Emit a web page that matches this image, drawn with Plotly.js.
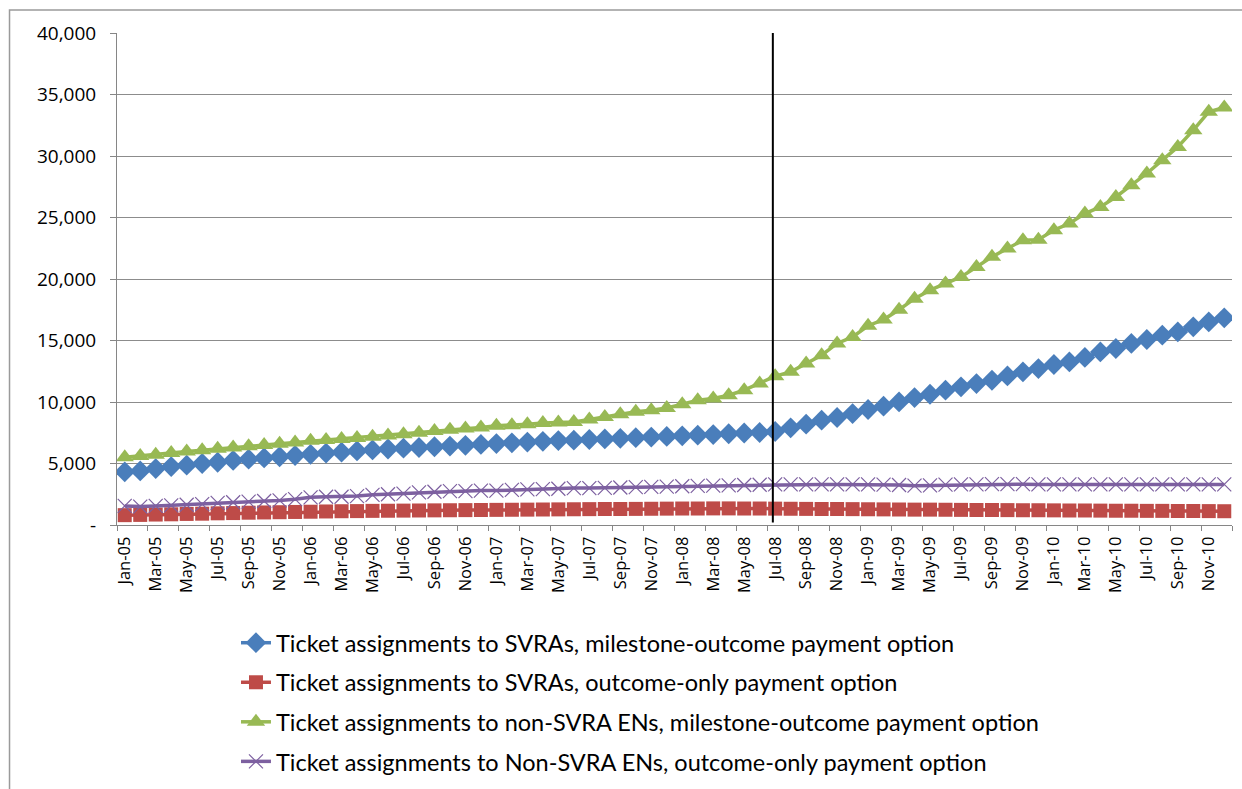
<!DOCTYPE html>
<html>
<head>
<meta charset="utf-8">
<script src="https://cdn.plot.ly/plotly-3.0.1.min.js"></script>
<style>html,body{margin:0;padding:0;background:#fff;}</style>
</head>
<body>
<div id="chart" style="width:1242px;height:789px;"></div>
<script>
const months = [
  "Jan-05","Feb-05","Mar-05","Apr-05","May-05","Jun-05","Jul-05","Aug-05","Sep-05","Oct-05","Nov-05","Dec-05",
  "Jan-06","Feb-06","Mar-06","Apr-06","May-06","Jun-06","Jul-06","Aug-06","Sep-06","Oct-06","Nov-06","Dec-06",
  "Jan-07","Feb-07","Mar-07","Apr-07","May-07","Jun-07","Jul-07","Aug-07","Sep-07","Oct-07","Nov-07","Dec-07",
  "Jan-08","Feb-08","Mar-08","Apr-08","May-08","Jun-08","Jul-08","Aug-08","Sep-08","Oct-08","Nov-08","Dec-08",
  "Jan-09","Feb-09","Mar-09","Apr-09","May-09","Jun-09","Jul-09","Aug-09","Sep-09","Oct-09","Nov-09","Dec-09",
  "Jan-10","Feb-10","Mar-10","Apr-10","May-10","Jun-10","Jul-10","Aug-10","Sep-10","Oct-10","Nov-10","Dec-10"
];

const svraMilestone = [
  4320,4400,4590,4750,4860,5000,5100,5250,5350,5450,5550,5650,
  5750,5850,5920,6020,6100,6180,6250,6300,6360,6420,6480,6550,
  6620,6680,6740,6800,6860,6900,6950,7000,7050,7100,7150,7200,
  7250,7300,7350,7420,7480,7520,7600,7900,8200,8520,8740,9060,
  9390,9660,10010,10360,10630,10960,11230,11500,11770,12120,12450,12720,
  13050,13260,13620,14070,14350,14760,15080,15430,15700,16110,16510,16840
];

const svraOutcome = [
  800,820,850,870,900,920,950,970,1000,1020,1040,1060,
  1080,1100,1120,1130,1150,1160,1170,1180,1190,1200,1210,1220,
  1230,1240,1250,1260,1270,1280,1290,1300,1300,1310,1320,1330,
  1340,1340,1350,1350,1340,1340,1330,1320,1310,1300,1300,1290,
  1280,1270,1260,1250,1250,1240,1230,1220,1220,1210,1200,1200,
  1190,1180,1180,1170,1160,1160,1150,1150,1140,1140,1130,1120
];

const nonSvraMilestone = [
  5500,5600,5720,5850,5970,6080,6200,6300,6400,6500,6600,6700,
  6850,6920,7000,7080,7180,7280,7380,7500,7650,7750,7840,7920,
  8060,8110,8200,8300,8330,8380,8580,8790,9010,9200,9330,9520,
  9820,10150,10280,10550,10960,11500,12100,12450,13130,13800,14760,15290,
  16200,16700,17500,18400,19090,19630,20170,20980,21800,22480,23150,23200,
  23970,24510,25320,25860,26670,27630,28580,29660,30740,32100,33590,33940
];

const nonSvraOutcome = [
  1550,1500,1550,1600,1650,1700,1800,1850,1900,1950,2000,2100,
  2250,2300,2300,2350,2450,2500,2550,2650,2700,2750,2750,2800,
  2800,2850,2900,2920,2950,3000,3000,3020,3050,3080,3100,3120,
  3150,3180,3200,3220,3250,3270,3300,3300,3300,3300,3300,3300,
  3300,3280,3250,3200,3220,3280,3300,3300,3320,3320,3320,3300,
  3300,3300,3300,3300,3300,3300,3300,3300,3300,3300,3300,3300
];

const seriesNames = [
  "Ticket assignments to SVRAs, milestone-outcome payment option",
  "Ticket assignments to SVRAs, outcome-only payment option",
  "Ticket assignments to non-SVRA ENs, milestone-outcome payment option",
  "Ticket assignments to Non-SVRA ENs, outcome-only payment option"
];

const yTickVals = [0,5000,10000,15000,20000,25000,30000,35000,40000];
const yTickText = ["-","5,000","10,000","15,000","20,000","25,000","30,000","35,000","40,000"];
const markerLine = "Jul-08";

const colors = ["#4A7EBB","#BE4B48","#98B954","#7D60A0"];
const symbols = ["diamond","square","triangle-up","x-thin-open"];
const sizes = [16,14,16,14];
const dataSets = [svraMilestone, svraOutcome, nonSvraMilestone, nonSvraOutcome];

const traces = dataSets.map((d,i)=>({
  type:"scatter", mode:"lines+markers",
  x: months, y: d, name: seriesNames[i],
  legendgroup: "g"+i,
  line:{color:colors[i], width:3.5},
  marker: i===3
    ? {symbol:symbols[i], size:sizes[i], color:colors[i], line:{color:colors[i], width:1.2}}
    : {symbol:symbols[i], size:sizes[i], color:colors[i], line:{width:0}},
  hoverinfo:"x+y+name"
}));

const lineIdx = months.indexOf(markerLine) - 0.15;

const layout = {
  width:1242, height:789, autosize:false,
  paper_bgcolor:"#fff", plot_bgcolor:"#fff",
  margin:{l:117, r:10, t:33, b:264, autoexpand:false},
  font:{family:"Lato, 'Liberation Sans', sans-serif", color:"#000"},
  showlegend:true,
  legend:{
    orientation:"v",
    x:0.1067, y:-0.195, xanchor:"left", yanchor:"top",
    font:{size:23.5, family:"Lato, 'Liberation Sans', sans-serif", color:"#000"},
    traceorder:"grouped", tracegroupgap:6, bgcolor:"rgba(0,0,0,0)"
  },
  xaxis:{
    type:"category", range:[-0.5,71.5],
    tickmode:"linear", tick0:0, dtick:2,
    tickson:"boundaries",
    tickangle:-90, tickfont:{size:16.5, family:"'Open Sans', Lato, sans-serif"},
    ticklabelstandoff:4,
    ticks:"outside", ticklen:5, tickcolor:"#868686",
    showline:true, linecolor:"#868686", linewidth:1,
    showgrid:false, zeroline:false, fixedrange:true, automargin:false
  },
  yaxis:{
    range:[0,40000], tickmode:"array", tickvals:yTickVals, ticktext:yTickText,
    tickfont:{size:19, family:"'Open Sans', Lato, sans-serif"},
    ticks:"outside", ticklen:6, tickcolor:"#868686", ticklabelstandoff:10,
    showline:true, linecolor:"#868686", linewidth:1,
    showgrid:true, gridcolor:"#8C8C8C", gridwidth:1,
    zeroline:false, fixedrange:true, automargin:false
  },
  shapes:[
    {type:"line", xref:"x", yref:"paper", x0:lineIdx, x1:lineIdx, y0:0.005, y1:1,
     line:{color:"#000", width:2}},
    {type:"rect", xref:"paper", yref:"paper", x0:-0.0964, x1:1.2, y0:-0.7, y1:1.0467,
     line:{color:"#9A9A9A", width:1.5}, fillcolor:"rgba(0,0,0,0)", layer:"below"}
  ]
};

Plotly.newPlot("chart", traces, layout, {displayModeBar:false, staticPlot:true});
</script>
</body>
</html>
